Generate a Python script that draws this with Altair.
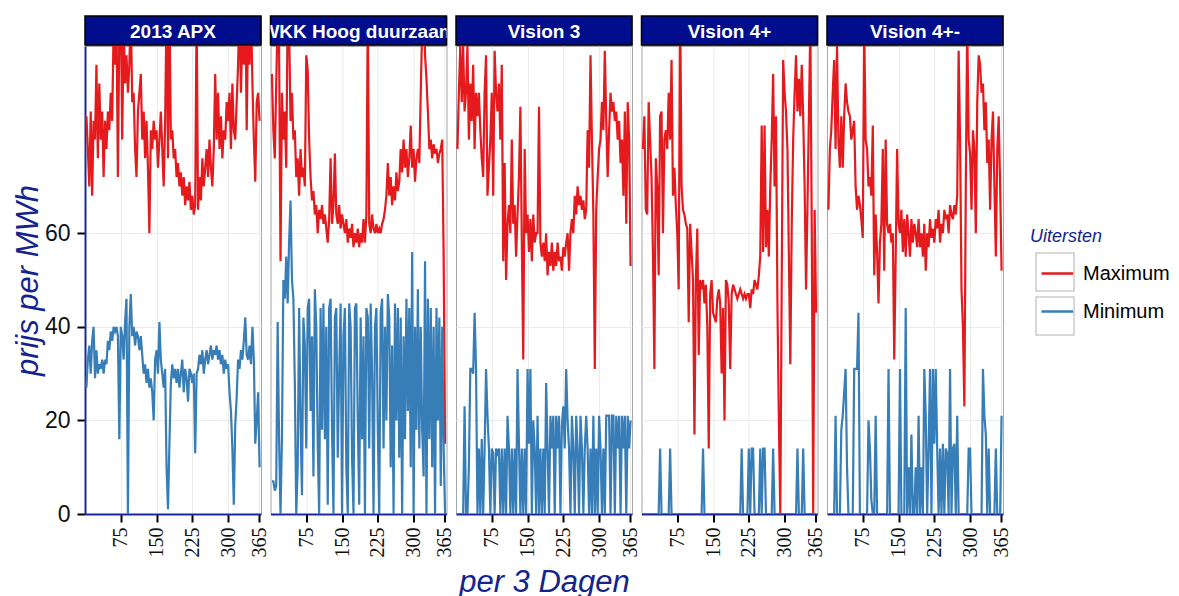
import altair as alt
import pandas as pd

panels = ["2013 APX", "WKK Hoog duurzaam", "Vision 3", "Vision 4+", "Vision 4+-"]
series = ["Maximum", "Minimum"]
colors = ["#E41A1C", "#377EB8"]
key_boxes = ["kader 1", "kader 2"]
x_ticks = [75, 150, 225, 300, 365]
y_ticks = [0, 20, 40, 60]
days = [3 * (i + 1) for i in range(122)]

apx_max = [85,78,70,86,68,84,80,96,76,92, 80,86,72,84,78,86,82,90,84,104,
           96,106,72,104,110,80,104,92,98,90, 96,108,88,90,78,72,86,90,94,80,
           86,76,84,74,60,82,78,84,80,82, 74,80,86,78,70,84,108,76,110,80,
           82,76,78,72,75,70,73,68,72,66, 70,67,71,65,68,64,66,108,65,72,
           67,76,70,74,78,72,80,74,70,78, 94,80,90,78,85,76,82,80,88,84,
           90,78,92,82,80,88,96,110,90,104, 96,112,82,106,96,108,92,80,71,88,
           90,84]
apx_min = [27,33,36,30,37,40,29,35,30,32, 31,33,30,33,32,37,35,39,37,40,
           39,40,38,16,40,38,33,41,46,0, 40,47,38,40,36,39,38,35,38,34,
           30,32,28,31,27,29,26,20,33,35, 30,41,33,30,27,31,10,1,15,28,
           32,29,31,28,31,27,30,33,26,31, 29,24,31,30,28,30,13,30,31,34,
           32,35,30,33,35,32,34,36,33,35, 34,36,33,35,32,34,30,33,31,32,
           26,22,14,2,19,25,33,31,35,33, 37,42,34,33,36,32,40,33,15,20,
           26,10]
wkk_max = [94,82,76,92,106,100,54,90,80,86, 74,108,104,84,90,80,82,72,76,68,
           78,72,74,70,98,95,80,72,67,69, 64,66,60,65,63,66,62,64,61,58,
           63,76,62,66,77,64,62,66,61,64, 62,60,63,58,61,59,62,57,60,58,
           61,57,60,58,63,58,64,108,62,60, 64,61,60,62,60,61,60,62,63,65,
           68,75,68,72,66,70,67,73,69,71, 78,73,80,74,78,72,76,83,74,78,
           71,76,78,75,90,104,110,98,93,86, 78,80,76,79,77,78,75,77,78,80,
           55,15]
wkk_min = [7,7,5,6,41,16,0,16,50,46, 55,45,58,67,50,46,28,0,10,44,
           20,4,42,36,14,44,46,22,38,8, 48,40,15,0,44,18,45,16,40,2,
           44,46,18,0,42,44,12,30,45,0, 38,44,10,0,45,40,12,0,44,45,
           20,2,42,16,38,0,44,42,14,45, 30,0,40,44,18,0,43,46,14,40,
           20,47,42,10,36,0,45,20,44,12, 42,0,38,16,46,22,44,10,56,0,
           40,18,48,14,40,18,8,54,0,46, 16,44,10,40,0,44,20,42,6,40,
           14,0]
v3_max = [78,90,100,88,100,86,90,100,80,92, 84,96,78,90,85,90,82,76,72,90,
          98,68,74,80,90,68,99,90,86,92, 80,96,54,75,50,62,66,60,80,62,
          66,55,64,72,87,58,33,78,60,64, 56,63,54,64,58,60,60,87,58,55,
          58,54,60,51,56,53,58,52,56,53, 58,54,55,52,57,55,58,60,52,60,
          63,60,68,64,70,66,68,65,67,63, 65,82,74,98,80,64,31,65,72,78,
          80,88,82,99,84,72,82,90,86,88, 84,86,80,84,75,80,68,86,62,88,
          80,53]
v3_min = [0,0,0,0,0,23,0,0,10,31, 31,30,43,31,0,14,0,16,0,14,
          31,21,14,0,14,13,0,14,13,14, 0,14,0,14,0,21,14,0,14,0,
          14,0,31,15,0,14,0,14,0,31, 15,31,0,20,14,0,21,0,14,0,
          14,0,28,14,0,21,14,21,0,21, 14,21,0,19,23,14,31,20,14,0,
          21,14,0,21,14,0,21,14,0,14, 21,14,0,14,0,21,0,14,0,21,
          14,0,14,0,21,21,21,0,21,21, 0,21,14,21,0,21,14,21,0,21,
          14,20]
v4p_max = [78,85,65,64,88,80,72,56,31,76, 70,51,85,86,60,80,82,78,90,80,
           97,68,74,66,60,48,110,70,65,64, 62,61,41,62,56,50,17,50,61,34,
           50,48,50,45,49,40,14,47,50,43, 42,41,46,48,45,30,44,20,50,49,
           45,31,47,49,48,47,46,47,48,47, 46,47,46,47,47,44,48,47,50,49,
           48,51,55,83,56,83,57,65,55,70, 80,94,70,85,45,20,0,50,97,90,
           86,78,55,32,62,80,90,98,86,93, 85,96,85,70,48,66,85,105,60,0,
           65,43]
v4p_min = [0,0,0,0,0,0,0,0,0,0, 0,0,14,0,0,0,0,0,0,14,
           0,0,0,0,0,0,0,0,0,0, 0,0,0,0,0,0,0,0,0,0,
           0,0,14,0,0,0,0,0,0,0, 0,0,0,0,0,0,0,0,0,0,
           0,0,0,0,0,0,0,0,0,14, 0,0,0,0,14,0,14,14,0,0,
           0,0,14,0,14,14,0,0,0,0, 0,14,0,0,0,0,0,0,0,0,
           0,0,0,0,0,0,0,0,14,0, 0,0,14,0,0,0,0,0,0,0,
           0,0]
v4pm_max = [65,78,82,90,97,78,100,80,74,85, 74,85,92,88,86,85,80,82,84,70,
            65,68,66,63,59,105,80,78,70,72, 68,83,51,64,56,45,58,62,78,52,
            80,62,60,62,58,60,33,55,78,62, 60,65,56,63,55,64,60,55,63,58,
            62,60,57,63,57,60,55,62,52,60, 57,63,59,61,58,63,61,65,58,62,
            60,65,63,64,60,66,64,63,66,64, 68,99,80,48,40,23,70,105,80,77,
            65,82,78,60,88,98,96,90,92,82, 88,75,80,65,80,86,70,55,78,85,
            70,52]
v4pm_min = [0,0,0,0,0,21,0,0,0,18, 21,26,31,10,0,0,0,0,31,31,
            31,43,0,0,0,0,0,0,20,14, 3,0,0,21,0,0,0,0,0,0,
            0,0,31,0,0,0,0,0,0,0, 31,0,0,0,44,0,10,0,17,0,
            0,10,0,21,0,10,0,31,21,0, 14,31,0,31,15,31,14,0,14,0,
            15,0,14,13,0,31,0,14,15,0, 21,0,0,0,0,0,0,0,14,14,
            0,0,0,0,0,0,0,0,31,21, 17,0,14,0,0,0,0,14,0,0,
            0,21]

maxima = [apx_max, wkk_max, v3_max, v4p_max, v4pm_max]
minima = [apx_min, wkk_min, v3_min, v4p_min, v4pm_min]

NAVY = "#000D8C"
AXIS_NAVY = "#1A2A9C"
TITLE_NAVY = "#14248E"
PW, PH, SH = 176, 468, 29
LEG_X, LEG_Y = 945, 212

line_legend = alt.Legend(
    title="Uitersten", orient="none", legendX=LEG_X, legendY=LEG_Y,
    titleFont="Liberation Sans", titleFontStyle="italic", titleFontWeight="normal",
    titleFontSize=18, titleColor=TITLE_NAVY, titlePadding=10,
    labelFont="Liberation Sans", labelFontSize=20, labelColor="black", labelOffset=8,
    symbolType="stroke", symbolSize=1024, symbolStrokeWidth=2.5, rowPadding=10,
    symbolOffset=10,
)
box_legend = alt.Legend(
    title=None, orient="none", legendX=LEG_X, legendY=LEG_Y + 24,
    labelFontSize=20, labelExpr="''", labelOffset=8,
    symbolType="square", symbolSize=1444, symbolStrokeWidth=1.5, rowPadding=0,
    symbolOffset=5, symbolStrokeColor="#CCCCCC", symbolFillColor="transparent",
    symbolOpacity=1,
)

cols = []
for i, name in enumerate(panels):
    n = len(days)
    df = pd.DataFrame({
        "dag": days + days,
        "prijs": maxima[i] + minima[i],
        "Uitersten": [series[0]] * n + [series[1]] * n,
    })
    first = i == 0
    yaxis = alt.Axis(
        values=y_ticks, grid=True, gridColor="#EBEBEB", gridWidth=1,
        labels=first, ticks=first, domain=first,
        title="prijs per MWh" if first else None,
        domainColor=AXIS_NAVY, domainWidth=2, tickColor="black", tickWidth=2, tickSize=8,
        labelFont="Liberation Sans", labelFontSize=23, labelColor="#111111", labelPadding=7,
        titleFont="Liberation Sans", titleFontStyle="italic", titleFontWeight="normal",
        titleFontSize=31, titleColor=TITLE_NAVY, titlePadding=0,
    )
    xaxis = alt.Axis(
        values=x_ticks, grid=True, gridColor="#EBEBEB", gridWidth=1,
        labelAngle=270, labelAlign="right", labelBaseline="middle",
        title="per 3 Dagen" if i == 2 else None,
        domainColor=AXIS_NAVY, domainWidth=2, tickColor="black", tickWidth=2, tickSize=8,
        labelFont="Liberation Serif", labelFontSize=20, labelColor="#111111", labelPadding=5,
        titleFont="Liberation Sans", titleFontStyle="italic", titleFontWeight="normal",
        titleFontSize=31, titleColor=TITLE_NAVY, titlePadding=10,
    )
    xenc = alt.X("dag:Q", scale=alt.Scale(domain=[0, 369], nice=False, zero=False), axis=xaxis)
    yenc = alt.Y("prijs:Q", scale=alt.Scale(domain=[0, 100], nice=False), axis=yaxis)
    lines = alt.Chart(df).mark_line(clip=True, strokeWidth=2.2).encode(
        x=xenc, y=yenc,
        color=alt.Color("Uitersten:N", scale=alt.Scale(domain=series, range=colors), legend=line_legend),
    )
    layers = [lines]
    if first:
        kdf = pd.DataFrame({"dag": [], "prijs": [], "kader": []})
        keys = alt.Chart(kdf).mark_point(filled=False, color="#CCCCCC", strokeWidth=1.5).encode(
            x=xenc, y=yenc,
            shape=alt.Shape("kader:N", scale=alt.Scale(domain=key_boxes, range=["square", "square"]),
                            legend=box_legend),
        )
        layers.append(keys)
    plot = alt.layer(*layers).properties(width=PW, height=PH)

    sdf = pd.DataFrame({"label": [name]})
    box = alt.Chart(sdf).mark_rect(fill=NAVY, stroke="black", strokeWidth=1.5).encode(
        x=alt.value(0), x2=alt.value(PW), y=alt.value(0), y2=alt.value(SH))
    txt = alt.Chart(sdf).mark_text(color="white", font="Liberation Sans", fontWeight="bold",
                                   fontSize=19, clip=True, baseline="middle").encode(
        x=alt.value(PW / 2), y=alt.value(SH / 2 + 1), text="label:N")
    strip = alt.layer(box, txt).properties(width=PW, height=SH)
    cols.append(alt.vconcat(strip, plot, spacing=1, bounds="flush"))

chart = alt.hconcat(*cols, spacing=-1.5).resolve_scale(color="shared").configure_view(
    stroke="#A6A6A6", strokeWidth=1
).properties(padding={"left": 3, "top": 6, "right": 0, "bottom": 0})

chart.save("out.html", embed_options={"renderer": "svg", "actions": False})
